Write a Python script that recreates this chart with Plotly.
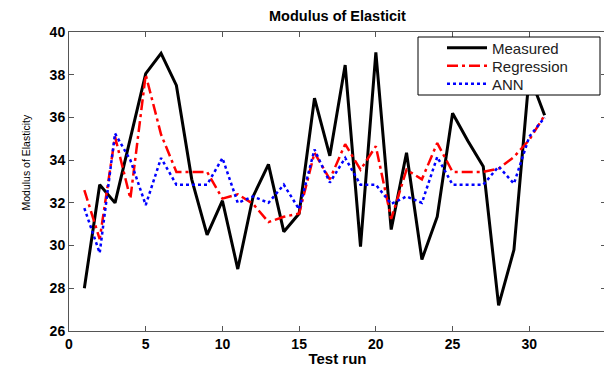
import plotly.graph_objects as go

test_run = list(range(1, 32))
measured = [28.0, 32.85, 32.0, 35.0, 38.05, 39.0, 37.5, 33.1, 30.5, 32.1,
            28.9, 32.3, 33.8, 30.65, 31.5, 36.9, 34.2, 38.45, 29.95, 39.05,
            30.75, 34.35, 29.35, 31.35, 36.2, 34.9, 33.7, 27.2, 29.8, 38.0, 36.1]
regression = [32.6, 30.3, 35.1, 32.2, 38.0, 35.2, 33.45, 33.45, 33.45, 32.2,
              32.4, 31.95, 31.1, 31.35, 31.5, 34.35, 33.1, 34.75, 33.55, 34.65,
              31.25, 33.55, 33.1, 34.8, 33.45, 33.45, 33.45, 33.6, 34.15, 34.95, 36.1]
ann = [31.75, 29.65, 35.25, 34.0, 31.9, 34.1, 32.85, 32.85, 32.85, 34.1,
       32.0, 32.3, 32.0, 32.85, 31.7, 34.5, 32.95, 34.1, 32.85, 32.85,
       31.95, 32.3, 32.0, 34.15, 32.85, 32.85, 32.85, 33.7, 32.9, 35.1, 36.0]

# page has an 8px body margin: figure sized to fill the rest of the window
W, H = 604, 359
L, R, T, B = 61, 6, 24, 36
PW, PH = W - L - R, H - T - B


def px_x(fx):
    return (fx - L) / PW


def px_y(fy):
    return 1 - (fy - T) / PH


fig = go.Figure()
fig.add_trace(go.Scatter(x=test_run, y=measured, mode="lines", name="Measured",
                         legend="legend",
                         line=dict(color="black", width=3)))
fig.add_trace(go.Scatter(x=test_run, y=regression, mode="lines", name="Regression",
                         legend="legend2",
                         line=dict(color="red", width=2.5, dash="11px,4px,3px,4px")))
fig.add_trace(go.Scatter(x=test_run, y=ann, mode="lines", name="ANN",
                         legend="legend3",
                         line=dict(color="blue", width=2.5, dash="3px,3px")))

axis_common = dict(showgrid=False, zeroline=False, showline=True, linecolor="#555555",
                   linewidth=1, mirror="ticks", ticks="inside", ticklen=5,
                   tickcolor="#555555", automargin=False,
                   tickfont=dict(family="Liberation Sans, Arial", size=14, color="black",
                                 weight="bold"))

# legend frame (white box over the lines, as in the reference)
fig.add_shape(type="rect", xref="paper", yref="paper",
              x0=px_x(410), x1=px_x(592), y0=px_y(87), y1=px_y(29),
              line=dict(color="black", width=1), fillcolor="white", layer="above")

fig.add_annotation(text="Modulus of Elasticity", textangle=-90, showarrow=False,
                   xref="paper", yref="paper", x=px_x(17.5), y=px_y(155),
                   xanchor="center", yanchor="middle",
                   font=dict(family="Liberation Sans, Arial", size=10.5, color="black"))

fig.add_annotation(text="<b>Modulus of Elasticit</b>", showarrow=False,
                   xref="paper", yref="paper", x=0.5, y=px_y(8),
                   xanchor="center", yanchor="middle",
                   font=dict(family="Liberation Sans, Arial", size=14.5, color="black"))


def leg(fy):
    return dict(x=px_x(434), y=px_y(fy), xanchor="left", yanchor="middle",
                bgcolor="rgba(0,0,0,0)", borderwidth=0,
                font=dict(family="Liberation Sans, Arial", size=15, color="#222222"),
                itemwidth=40)


fig.update_layout(
    width=W, height=H,
    margin=dict(l=L, r=R, t=T, b=B),
    paper_bgcolor="white", plot_bgcolor="white",
    xaxis=dict(range=[0, 35], dtick=5, tick0=0,
               title=dict(text="<b>Test run</b>", standoff=3,
                          font=dict(family="Liberation Sans, Arial", size=15, color="black")),
               **axis_common),
    yaxis=dict(range=[26, 40], dtick=2, tick0=26, **axis_common),
    legend=leg(40), legend2=leg(58), legend3=leg(76),
    showlegend=True,
)

fig.write_html("out.html")
